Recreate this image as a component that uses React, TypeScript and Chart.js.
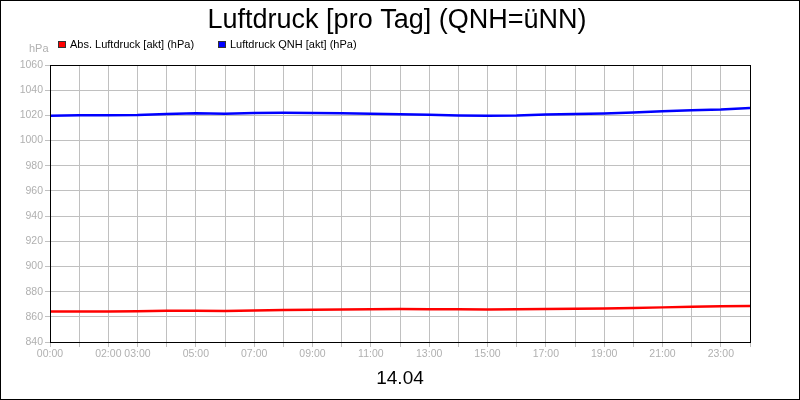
import React, { useEffect, useRef } from 'react';
import { Chart, registerables } from 'chart.js';

Chart.register(...registerables);

// Stunden des Tages (x-Werte)
const hours = [0, 1, 2, 3, 4, 5, 6, 7, 8, 9, 10, 11, 12, 13, 14, 15, 16, 17, 18, 19, 20, 21, 22, 23, 24];

// Abs. Luftdruck [akt] (hPa)
const absPressure = [
  864.2, 864.2, 864.3, 864.5, 864.8, 864.8, 864.6, 865.1, 865.5, 865.7, 865.9, 866.1, 866.2,
  866.1, 866.0, 865.9, 866.0, 866.2, 866.4, 866.7, 867.1, 867.5, 867.9, 868.3, 868.5,
];

// Luftdruck QNH [akt] (hPa)
const qnhPressure = [
  1019.7, 1020.0, 1020.1, 1020.2, 1021.0, 1021.6, 1021.2, 1021.9, 1022.0, 1021.8, 1021.6, 1021.2, 1020.8,
  1020.5, 1019.9, 1019.7, 1019.8, 1020.6, 1021.0, 1021.5, 1022.3, 1023.2, 1024.0, 1024.6, 1025.8,
];

// Beschriftete Stunden der x-Achse
const labeledHours = [0, 2, 3, 5, 7, 9, 11, 13, 15, 17, 19, 21, 23];

const seriesNames = ['Abs. Luftdruck [akt] (hPa)', 'Luftdruck QNH [akt] (hPa)'];
const seriesColors = ['#ff0000', '#0000ff'];

const FONT = '"Liberation Sans", Arial, sans-serif';
const GRID = '#c0c0c0';
const TICK_TEXT = '#b0b0b0';

// Titel, Legende, Einheit, Datum und Rahmen
const decorPlugin = {
  id: 'decor',
  afterDraw(chart: Chart) {
    const { ctx, chartArea } = chart;
    ctx.save();

    // Rahmen um den Plotbereich
    ctx.strokeStyle = '#000';
    ctx.lineWidth = 1;
    ctx.strokeRect(
      Math.round(chartArea.left) + 0.5,
      Math.round(chartArea.top) + 0.5,
      Math.round(chartArea.right - chartArea.left),
      Math.round(chartArea.bottom - chartArea.top)
    );

    // Rahmen um das ganze Bild
    ctx.strokeRect(0.5, 0.5, chart.width - 1, chart.height - 1);

    // Titel
    ctx.fillStyle = '#000';
    ctx.font = `27px ${FONT}`;
    ctx.textAlign = 'center';
    ctx.textBaseline = 'alphabetic';
    ctx.fillText('Luftdruck [pro Tag] (QNH=üNN)', 397, 28);

    // Datum unten
    ctx.font = `19px ${FONT}`;
    ctx.fillText('14.04', 400, 384);

    // Einheit
    ctx.fillStyle = TICK_TEXT;
    ctx.font = `11px ${FONT}`;
    ctx.textAlign = 'left';
    ctx.fillText('hPa', 29, 52);

    // Legende
    const legendX = [58, 218];
    seriesNames.forEach((name, i) => {
      const x = legendX[i];
      ctx.fillStyle = seriesColors[i];
      ctx.fillRect(x, 41, 8, 7);
      ctx.strokeStyle = '#333';
      ctx.strokeRect(x + 0.5, 41.5, 7, 6);
      ctx.fillStyle = '#000';
      ctx.font = `11px ${FONT}`;
      ctx.fillText(name, x + 12, 48);
    });

    ctx.restore();
  },
};

const PressureChart: React.FC = () => {
  const canvasRef = useRef<HTMLCanvasElement>(null);
  const chartRef = useRef<Chart | null>(null);

  useEffect(() => {
    document.body.style.margin = '0';
    if (!canvasRef.current) return;
    if (chartRef.current) chartRef.current.destroy();

    chartRef.current = new Chart(canvasRef.current, {
      type: 'line',
      data: {
        datasets: [
          {
            label: seriesNames[0],
            data: hours.map((h, i) => ({ x: h, y: absPressure[i] })),
            borderColor: seriesColors[0],
            borderWidth: 2.5,
            pointRadius: 0,
            tension: 0,
          },
          {
            label: seriesNames[1],
            data: hours.map((h, i) => ({ x: h, y: qnhPressure[i] })),
            borderColor: seriesColors[1],
            borderWidth: 2.5,
            pointRadius: 0,
            tension: 0,
          },
        ],
      },
      options: {
        responsive: false,
        animation: false,
        devicePixelRatio: 1,
        layout: { padding: { top: 65, right: 50, left: 0, bottom: 0 } },
        plugins: {
          legend: { display: false },
          title: { display: false },
          tooltip: { enabled: false },
        },
        scales: {
          x: {
            type: 'linear',
            min: 0,
            max: 24,
            afterFit: (scale: any) => {
              scale.height = 58;
            },
            border: { color: '#000', width: 1 },
            grid: { color: GRID, tickColor: GRID, tickLength: 5 },
            ticks: {
              stepSize: 1,
              autoSkip: false,
              maxRotation: 0,
              padding: 1,
              color: TICK_TEXT,
              font: { family: FONT, size: 10.5 },
              callback: (value: any) => {
                const h = Number(value);
                return labeledHours.includes(h) ? `${String(h).padStart(2, '0')}:00` : '';
              },
            },
          },
          y: {
            min: 840,
            max: 1060,
            afterFit: (scale: any) => {
              scale.width = 50;
            },
            border: { color: '#000', width: 1 },
            grid: { color: GRID, tickColor: GRID, tickLength: 5 },
            ticks: {
              stepSize: 20,
              padding: 2,
              color: TICK_TEXT,
              font: { family: FONT, size: 10.5 },
              callback: (value: any) => String(value),
            },
          },
        },
      },
      plugins: [decorPlugin],
    });

    return () => {
      if (chartRef.current) {
        chartRef.current.destroy();
        chartRef.current = null;
      }
    };
  }, []);

  return (
    <div style={{ width: 800, height: 400, background: '#fff' }}>
      <canvas ref={canvasRef} width={800} height={400}></canvas>
    </div>
  );
};

export default function App() {
  return <PressureChart />;
}
